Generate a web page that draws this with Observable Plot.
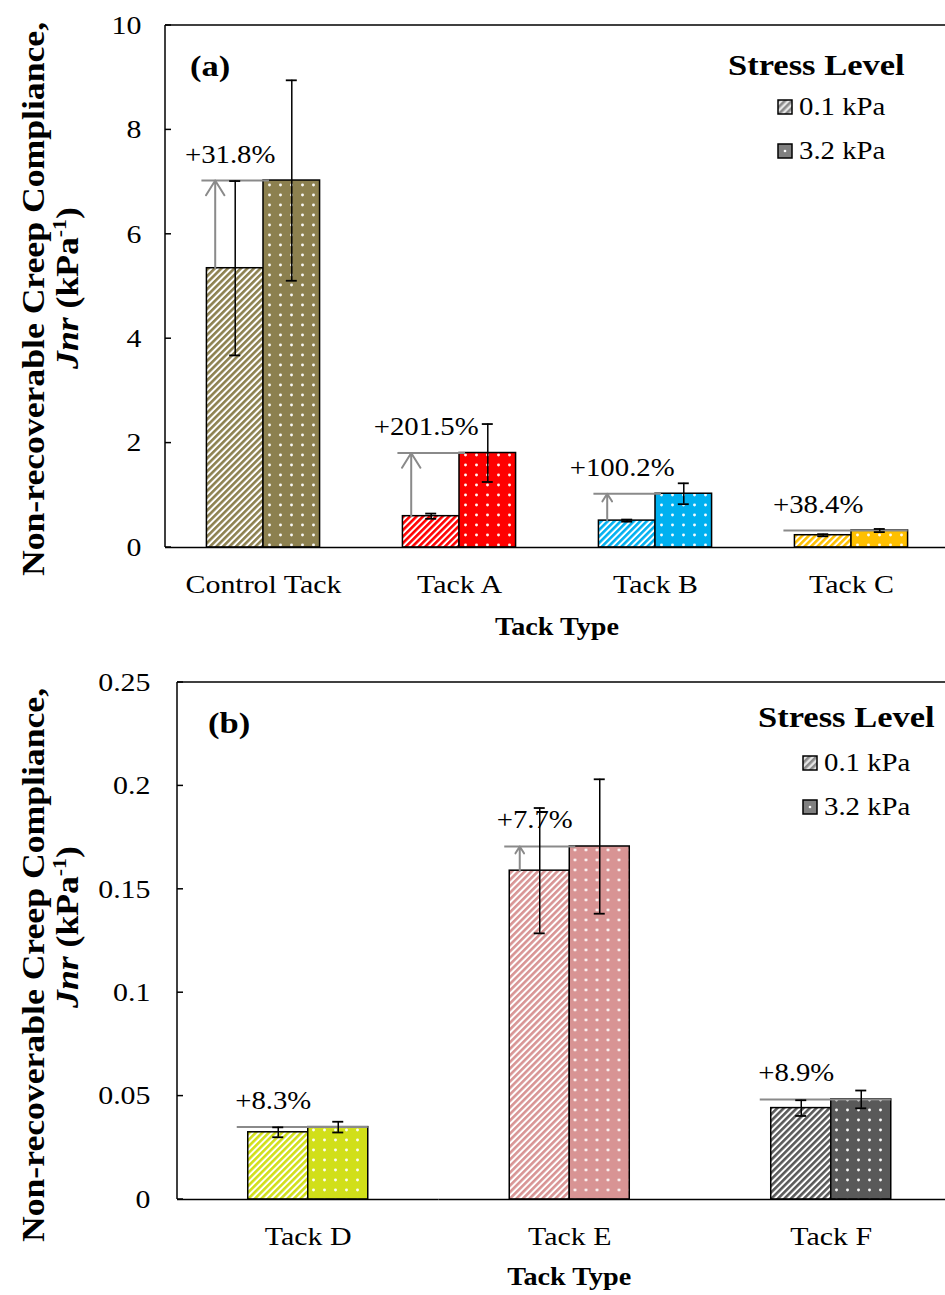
<!DOCTYPE html>
<html>
<head>
<meta charset="utf-8">
<script src="https://cdn.jsdelivr.net/npm/d3@7"></script>
<script src="https://cdn.jsdelivr.net/npm/@observablehq/plot@0.6"></script>
<style>
  html, body { margin: 0; padding: 0; background: #fff; }
  #chart { width: 945px; }
  #chart svg { display: block; }
</style>
</head>
<body>
<svg id="defs" width="0" height="0" style="position:absolute"></svg>
<div id="chart"></div>
<script>
// ---------- Data: panel (a) ----------
const tacksA = ["Control Tack", "Tack A", "Tack B", "Tack C"];
const colorsA = ["#8C804F", "#FF0000", "#00B0F0", "#FFC000"];
const jnr01A = [5.35, 0.60, 0.515, 0.235];
const jnr32A = [7.03, 1.81, 1.03, 0.325];
const err01A = [1.67, 0.05, 0.02, 0.02];
const err32A = [1.92, 0.555, 0.20, 0.03];
const pctA = ["+31.8%", "+201.5%", "+100.2%", "+38.4%"];
const yTicksA = [0, 2, 4, 6, 8, 10];

// ---------- Data: panel (b) ----------
const tacksB = ["Tack D", "Tack E", "Tack F"];
const colorsB = ["#D1DF19", "#D89494", "#595959"];
const jnr01B = [0.0325, 0.1590, 0.0442];
const jnr32B = [0.0350, 0.1707, 0.0484];
const err01B = [0.0024, 0.0303, 0.0038];
const err32B = [0.0026, 0.0325, 0.0043];
const pctB = ["+8.3%", "+7.7%", "+8.9%"];
const yTicksB = [0, 0.05, 0.1, 0.15, 0.2, 0.25];

// ---------- Shared ----------
const levels = ["0.1", "3.2"];
const levelLabels = ["0.1 kPa", "3.2 kPa"];
const legendTitle = "Stress Level";
const xTitle = "Tack Type";

const FONT = "'Liberation Serif', 'Times New Roman', serif";
const STRETCH = 1.15;

// ---------- Patterns ----------
const defs = d3.select("#defs").append("defs");
function addPatterns(id, color, dotColor = "white") {
  const w = 4.6;
  const s = defs.append("pattern").attr("id", "s" + id)
    .attr("patternUnits", "userSpaceOnUse").attr("width", w).attr("height", w)
    .attr("patternTransform", "rotate(45)");
  s.append("rect").attr("width", w).attr("height", w).attr("fill", "white");
  s.append("rect").attr("width", 2.6).attr("height", w).attr("fill", color);
  const d = defs.append("pattern").attr("id", "d" + id)
    .attr("patternUnits", "userSpaceOnUse").attr("width", 11).attr("height", 10);
  d.append("rect").attr("width", 11).attr("height", 10).attr("fill", color);
  d.append("circle").attr("cx", 5.5).attr("cy", 5).attr("r", 1.45).attr("fill", dotColor).attr("opacity", 0.95);
}
colorsA.forEach((c, i) => addPatterns("a" + i, c));
colorsB.forEach((c, i) => addPatterns("b" + i, c));
// legend swatches
(function () {
  const s = defs.append("pattern").attr("id", "legS")
    .attr("patternUnits", "userSpaceOnUse").attr("width", 5).attr("height", 5)
    .attr("patternTransform", "rotate(45)");
  s.append("rect").attr("width", 5).attr("height", 5).attr("fill", "#e6e6e6");
  s.append("rect").attr("width", 2.6).attr("height", 5).attr("fill", "#8a8a8a");
  const d = defs.append("pattern").attr("id", "legD")
    .attr("patternUnits", "objectBoundingBox").attr("width", 1).attr("height", 1);
  d.append("rect").attr("width", 14).attr("height", 14).attr("fill", "#808080");
  d.append("circle").attr("cx", 7).attr("cy", 7).attr("r", 1.3).attr("fill", "white");
})();

// ---------- Panel builder ----------
function panel(cfg) {
  const rows = [];
  cfg.tacks.forEach((t, i) => {
    rows.push({tack: t, level: levels[0], value: cfg.v01[i], err: cfg.e01[i], fill: `url(#s${cfg.prefix}${i})`});
    rows.push({tack: t, level: levels[1], value: cfg.v32[i], err: cfg.e32[i], fill: `url(#d${cfg.prefix}${i})`});
  });
  const yMax = cfg.ticks[cfg.ticks.length - 1];
  const ann = cfg.tacks.map((t, i) => ({
    tack: t, lo: cfg.v01[i], hi: cfg.v32[i], label: cfg.pct[i],
    long: (cfg.v32[i] - cfg.v01[i]) / yMax > 0.03
  }));
  const gray = "#8a8a8a";
  const plot = Plot.plot({
    width: 945,
    height: cfg.height,
    marginTop: cfg.mTop,
    marginBottom: cfg.mBottom,
    marginLeft: cfg.mLeft,
    marginRight: cfg.mRight,
    style: {fontFamily: FONT, fontSize: "26px", color: "black", background: "white"},
    fx: {domain: cfg.tacks, padding: 0, round: false, label: null, axis: "bottom", tickSize: 0, tickPadding: 27},
    x: {domain: levels, paddingInner: 0, paddingOuter: cfg.padOuter, round: false, axis: null},
    y: {domain: [0, yMax], ticks: cfg.ticks, tickFormat: d => String(d), tickSize: 0, tickPadding: cfg.tickPad, label: null},
    color: {type: "identity"},
    marks: [
      Plot.barY(rows, {fx: "tack", x: "level", y: "value", fill: "fill", stroke: "black", strokeWidth: 1.5}),
      Plot.ruleY([0], {stroke: "black", strokeWidth: 1.5}),
      Plot.ruleY(ann.filter(d => d.long), {fx: "tack", x1: () => levels[0], x2: () => levels[0], y: "hi",
        stroke: gray, strokeWidth: 2, insetLeft: -5, insetRight: -6}),
      Plot.ruleY(ann.filter(d => !d.long), {fx: "tack", x1: () => levels[0], x2: () => levels[1], y: "hi",
        stroke: gray, strokeWidth: 2, insetLeft: -11}),
      Plot.arrow(ann.filter(d => d.long), {fx: "tack", x1: () => levels[0], x2: () => levels[0], y1: "lo", y2: "hi",
        dx: -20, stroke: gray, strokeWidth: 2, headLength: 13, headAngle: 64}),
      Plot.ruleX(rows, {fx: "tack", x: "level", y1: d => d.value - d.err, y2: d => d.value + d.err, stroke: "black", strokeWidth: 1.5}),
      Plot.tickY(rows, {fx: "tack", x: "level", y: d => d.value - d.err, stroke: "black", strokeWidth: 1.8,
        insetLeft: cfg.capInset, insetRight: cfg.capInset}),
      Plot.tickY(rows, {fx: "tack", x: "level", y: d => d.value + d.err, stroke: "black", strokeWidth: 1.8,
        insetLeft: cfg.capInset, insetRight: cfg.capInset}),
      Plot.text(ann, {fx: "tack", x: () => levels[0], y: "hi", text: "label", dy: -26, dx: -5, fontSize: 25})
    ]
  });
  return plot;
}

function decorate(plot, cfg) {
  const svg = d3.select(plot);
  const y = plot.scale("y");
  const L = cfg.mLeft, T = cfg.mTop, B = cfg.height - cfg.mBottom, R = 945 - cfg.mRight;
  const g = svg.append("g").attr("stroke", "black").attr("stroke-width", 1.5);
  g.append("line").attr("x1", L).attr("x2", R).attr("y1", T).attr("y2", T);
  g.append("line").attr("x1", L).attr("x2", L).attr("y1", T).attr("y2", B);
  cfg.ticks.forEach(t => g.append("line").attr("x1", L).attr("x2", L + 6)
    .attr("y1", y.apply(t)).attr("y2", y.apply(t)));

  const tg = svg.append("g").attr("font-family", FONT).attr("fill", "black").attr("text-anchor", "start");
  // x-axis title
  tg.append("text").attr("x", (L + R) / 2).attr("y", cfg.xTitleY).attr("text-anchor", "middle")
    .attr("font-weight", "bold").attr("font-size", 24.5).text(xTitle);
  // panel label
  tg.append("text").attr("x", cfg.tagX).attr("y", cfg.tagY).attr("font-weight", "bold")
    .attr("font-size", 30).text(cfg.tag);
  // y-axis title (two lines)
  tg.append("text").attr("transform", `translate(44,${cfg.yTitle1}) rotate(-90)`).attr("text-anchor", "middle")
    .attr("font-weight", "bold").attr("font-size", 31).text("Non-recoverable Creep Compliance,");
  const t2 = tg.append("text").attr("transform", `translate(78,${cfg.yTitle2}) rotate(-90)`)
    .attr("text-anchor", "middle").attr("font-weight", "bold").attr("font-size", 31);
  t2.append("tspan").attr("font-style", "italic").text("Jnr");
  t2.append("tspan").text(" (kPa");
  t2.append("tspan").attr("font-size", 19).attr("dy", -12).text("-1");
  t2.append("tspan").attr("dy", 12).text(")");
  // legend
  tg.append("text").attr("x", cfg.legX).attr("y", cfg.legY).attr("font-weight", "bold")
    .attr("font-size", 30).text(legendTitle);
  levelLabels.forEach((lab, i) => {
    const cy = cfg.legItemY[i];
    svg.append("rect").attr("x", cfg.swX - 7).attr("y", cy - 7).attr("width", 14).attr("height", 14)
      .attr("fill", i === 0 ? "url(#legS)" : "url(#legD)").attr("stroke", "black").attr("stroke-width", 1.5);
    tg.append("text").attr("x", cfg.swX + 14).attr("y", cy + 8).attr("font-size", 25).text(lab);
  });
}

const cfgA = {
  prefix: "a", tacks: tacksA, v01: jnr01A, v32: jnr32A, e01: err01A, e32: err32A, pct: pctA, ticks: yTicksA,
  height: 645, mTop: 25, mBottom: 98, mLeft: 165, mRight: -4, tickPad: 24, padOuter: 0.732, capInset: 22.8,
  xTitleY: 635, tag: "(a)", tagX: 190, tagY: 76, yTitle1: 299, yTitle2: 288,
  legX: 728, legY: 75, swX: 785, legItemY: [107, 151]
};
const cfgB = {
  prefix: "b", tacks: tacksB, v01: jnr01B, v32: jnr32B, e01: err01B, e32: err32B, pct: pctB, ticks: yTicksB,
  height: 650, mTop: 37, mBottom: 96, mLeft: 177, mRight: -16.5, tickPad: 27, padOuter: 1.179, capInset: 24.5,
  xTitleY: 640, tag: "(b)", tagX: 208, tagY: 88, yTitle1: 320, yTitle2: 282,
  legX: 758, legY: 82, swX: 810, legItemY: [118, 162]
};

const chart = document.getElementById("chart");
[cfgA, cfgB].forEach(cfg => {
  const p = panel(cfg);
  chart.appendChild(p);
  decorate(p, cfg);
});

// Widen glyphs slightly to match the reference typeface's proportions
chart.querySelectorAll("svg text").forEach(t => {
  const len = t.getComputedTextLength();
  if (len > 0) {
    t.setAttribute("textLength", (len * STRETCH).toFixed(1));
    t.setAttribute("lengthAdjust", "spacingAndGlyphs");
  }
});
</script>
</body>
</html>
